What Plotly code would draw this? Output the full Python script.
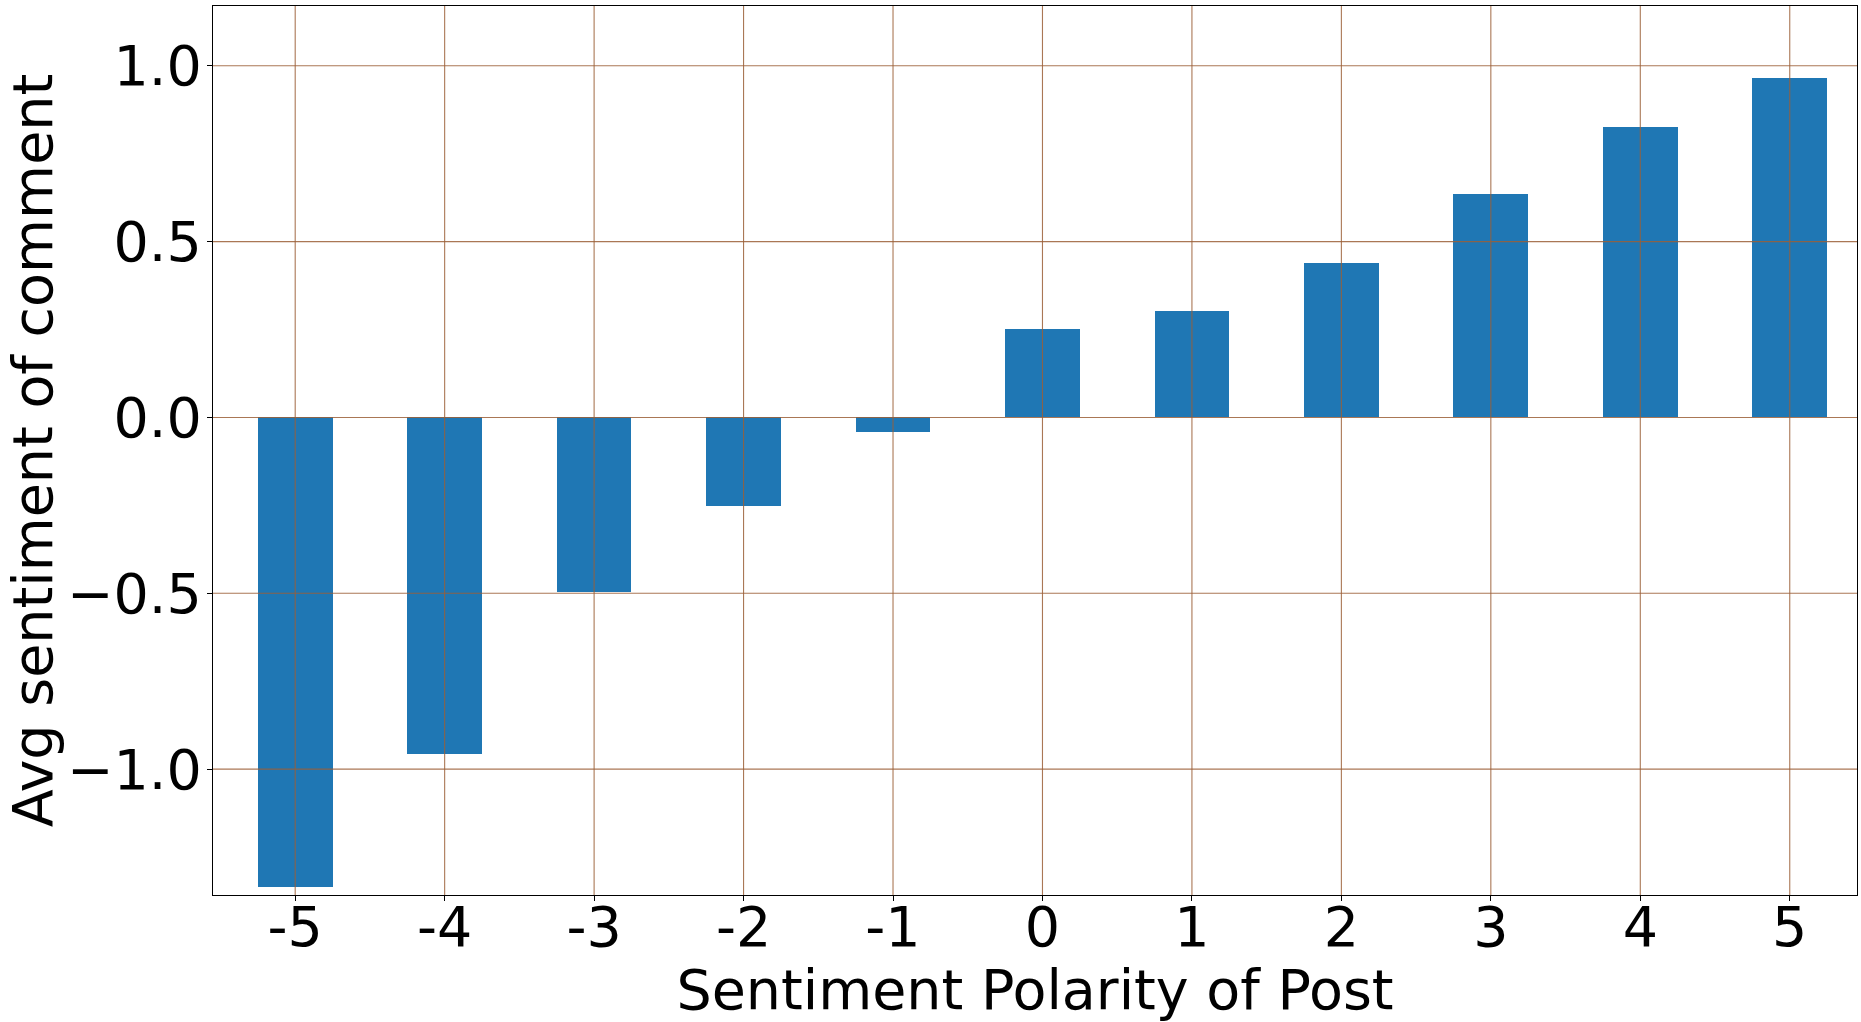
import plotly.graph_objects as go

# Data
polarity = [-5, -4, -3, -2, -1, 0, 1, 2, 3, 4, 5]
polarity_labels = ["-5", "-4", "-3", "-2", "-1", "0", "1", "2", "3", "4", "5"]
avg_sentiment = [-1.336, -0.958, -0.495, -0.252, -0.042, 0.251, 0.302, 0.438, 0.634, 0.825, 0.964]
y_tickvals = [-1.0, -0.5, 0.0, 0.5, 1.0]
y_ticktext = ["\u22121.0", "\u22120.5", "0.0", "0.5", "1.0"]

FONT = "DejaVu Sans"
FS = 55.5
GRID = "rgba(155,95,55,0.85)"

fig = go.Figure()
fig.add_trace(go.Bar(
    x=polarity, y=avg_sentiment, width=0.5,
    marker=dict(color="#1f77b4", line=dict(width=0)),
))

shapes = []
for v in y_tickvals:
    shapes.append(dict(type="line", xref="paper", yref="y", x0=0, x1=1, y0=v, y1=v,
                       line=dict(color=GRID, width=1.1), layer="above"))
for v in polarity:
    shapes.append(dict(type="line", xref="x", yref="paper", x0=v, x1=v, y0=0, y1=1,
                       line=dict(color=GRID, width=1.1), layer="above"))

fig.update_layout(
    width=1861, height=1022, autosize=False,
    margin=dict(l=213, r=4, t=6, b=127, pad=0),
    plot_bgcolor="white", paper_bgcolor="white",
    font=dict(family=FONT, size=FS, color="black"),
    showlegend=False,
    shapes=shapes,
    bargap=0,
)
fig.update_xaxes(
    range=[-5.55, 5.45], tickmode="array", tickvals=polarity, ticktext=polarity_labels,
    showgrid=False, zeroline=False,
    showline=True, linecolor="black", linewidth=1.2, mirror=True,
    ticks="outside", ticklen=5, tickwidth=1.2, tickcolor="black",
    tickfont=dict(family=FONT, size=FS, color="black"),
    ticklabelstandoff=-22,
    title=dict(text="Sentiment Polarity of Post", font=dict(family=FONT, size=FS, color="black"), standoff=28),
    automargin=False,
)
fig.update_yaxes(
    range=[-1.358, 1.170], tickmode="array", tickvals=y_tickvals, ticktext=y_ticktext,
    showgrid=False, zeroline=False,
    showline=True, linecolor="black", linewidth=1.2, mirror=True,
    ticks="outside", ticklen=5, tickwidth=1.2, tickcolor="black",
    tickfont=dict(family=FONT, size=FS, color="black"),
    ticklabelstandoff=-6,
    title=dict(text="Avg sentiment of comment", font=dict(family=FONT, size=FS, color="black"), standoff=16),
    automargin=False,
)

fig.write_html("out.html", config={"displayModeBar": False},
               post_script="document.body.style.margin='0';document.body.style.overflow='hidden';")
